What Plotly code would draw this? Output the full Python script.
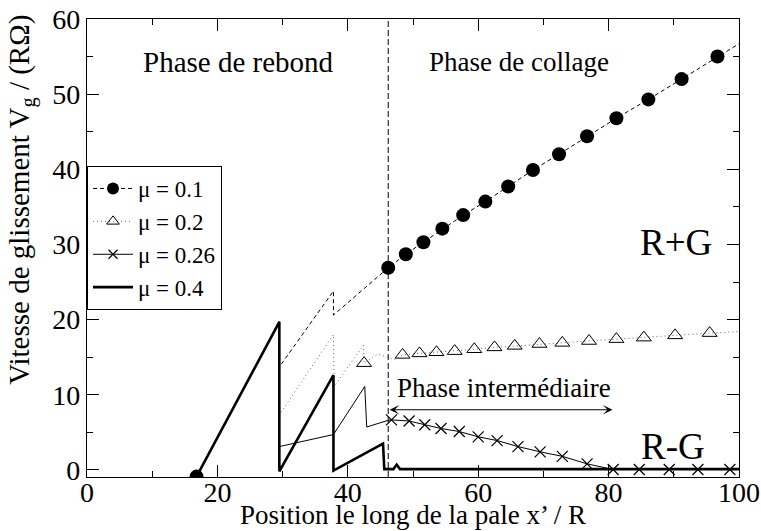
import plotly.graph_objects as go

FONT = '"Liberation Serif", "Times New Roman", Times, serif'

# ---- mu = 0.1 : dashed line, filled circles ----
mu01_x = [16.8, 29.5, 29.5, 37.8, 37.8, 46.2, 48.9, 51.6, 54.5, 57.7, 61.1, 64.6,
          68.4, 72.4, 76.7, 81.2, 86.1, 91.2, 96.7, 100.0]
mu01_y = [-0.9, 19.7, 13.7, 23.8, 20.6, 26.9, 28.7, 30.3, 32.1, 33.9, 35.7, 37.7,
          39.9, 42.0, 44.4, 46.8, 49.3, 52.0, 55.0, 56.7]
mu01_pts_x = [16.8, 46.2, 48.9, 51.6, 54.5, 57.7, 61.1, 64.6, 68.4, 72.4, 76.7,
              81.2, 86.1, 91.2, 96.7]
mu01_pts_y = [-0.9, 26.9, 28.7, 30.3, 32.1, 33.9, 35.7, 37.7, 39.9, 42.0, 44.4,
              46.8, 49.3, 52.0, 55.0]

# ---- mu = 0.2 : dotted line, open triangles ----
mu02_x = [16.8, 29.5, 29.5, 37.8, 37.9, 42.4, 42.5, 44.6, 47.2, 48.4, 51.0, 53.6,
          56.4, 59.4, 62.5, 65.6, 69.4, 72.9, 77.0, 81.2, 85.4, 90.2, 95.5, 100.0]
mu02_y = [-0.9, 19.7, 7.3, 18.0, 11.1, 16.6, 14.2, 15.4, 14.7, 15.3, 15.5, 15.65,
          15.8, 16.05, 16.3, 16.5, 16.75, 16.9, 17.15, 17.4, 17.6, 17.9, 18.2, 18.4]
mu02_pts_x = [16.8, 42.5, 48.4, 51.0, 53.6, 56.4, 59.4, 62.5, 65.6, 69.4, 72.9,
              77.0, 81.2, 85.4, 90.2, 95.5]
mu02_pts_y = [-0.9, 14.2, 15.3, 15.5, 15.65, 15.8, 16.05, 16.3, 16.5, 16.75, 16.9,
              17.15, 17.4, 17.6, 17.9, 18.2]

# ---- mu = 0.26 : thin solid line, crosses ----
mu026_x = [16.8, 29.5, 29.5, 37.8, 42.6, 42.9, 46.2, 46.7, 49.4, 51.8, 54.3, 57.1,
           60.0, 62.9, 66.1, 69.5, 72.9, 76.7, 80.7, 84.7, 89.3, 93.7, 98.6, 100.0]
mu026_y = [-0.9, 19.7, 3.1, 4.7, 11.1, 5.7, 6.6, 6.65, 6.5, 6.0, 5.5, 5.1,
           4.4, 3.9, 3.1, 2.4, 1.8, 0.8, 0.05, 0.05, 0.05, 0.05, 0.05, 0.05]
mu026_pts_x = [46.7, 49.4, 51.8, 54.3, 57.1, 60.0, 62.9, 66.1, 69.5, 72.9, 76.7,
               80.7, 84.7, 89.3, 93.7, 98.6]
mu026_pts_y = [6.65, 6.5, 6.0, 5.5, 5.1, 4.4, 3.9, 3.1, 2.4, 1.8, 0.8,
               0.05, 0.05, 0.05, 0.05, 0.05]

# ---- mu = 0.4 : thick solid line ----
mu04_x = [16.8, 29.5, 29.5, 37.8, 37.8, 45.4, 45.6, 47.0, 47.5, 48.0, 100.0]
mu04_y = [-0.9, 19.7, -0.2, 12.6, -0.1, 3.5, 0.1, 0.1, 0.7, 0.1, 0.1]

x_ticks = [0, 20, 40, 60, 80, 100]
y_ticks = [0, 10, 20, 30, 40, 50, 60]

STICK_X = 46.2          # start of the sticking phase
INTER_X = [46.2, 80.6]  # extent of the intermediate phase
INTER_Y = 8.0

fig = go.Figure()

# curves
fig.add_trace(go.Scatter(x=mu01_x, y=mu01_y, mode="lines", showlegend=False,
                         line=dict(color="black", width=1, dash="4px,3px")))
fig.add_trace(go.Scatter(x=mu02_x, y=mu02_y, mode="lines", showlegend=False,
                         line=dict(color="#666666", width=1, dash="1px,3px")))
fig.add_trace(go.Scatter(x=mu026_x, y=mu026_y, mode="lines", showlegend=False,
                         line=dict(color="black", width=1)))
fig.add_trace(go.Scatter(x=mu04_x, y=mu04_y, mode="lines", showlegend=False,
                         line=dict(color="black", width=2.6)))

# symbols
fig.add_trace(go.Scatter(x=mu01_pts_x, y=mu01_pts_y, mode="markers", showlegend=False,
                         marker=dict(symbol="circle", size=14, color="black")))
fig.add_trace(go.Scatter(x=mu02_pts_x, y=mu02_pts_y, mode="markers", showlegend=False,
                         marker=dict(symbol="triangle-up-open", size=13, color="black",
                                     line=dict(width=1))))
fig.add_trace(go.Scatter(x=mu026_pts_x, y=mu026_pts_y, mode="markers", showlegend=False,
                         marker=dict(symbol="x-thin-open", size=11, color="black",
                                     line=dict(width=1.2, color="black"))))

# legend entries
fig.add_trace(go.Scatter(x=[None], y=[None], mode="lines+markers", name="μ = 0.1",
                         line=dict(color="black", width=1, dash="4px,3px"),
                         marker=dict(symbol="circle", size=12, color="black")))
fig.add_trace(go.Scatter(x=[None], y=[None], mode="lines+markers", name="μ = 0.2",
                         line=dict(color="#666666", width=1, dash="1px,3px"),
                         marker=dict(symbol="triangle-up-open", size=11, color="black",
                                     line=dict(width=1))))
fig.add_trace(go.Scatter(x=[None], y=[None], mode="lines+markers", name="μ = 0.26",
                         line=dict(color="black", width=1),
                         marker=dict(symbol="x-thin-open", size=9, color="black",
                                     line=dict(width=1.2, color="black"))))
fig.add_trace(go.Scatter(x=[None], y=[None], mode="lines", name="μ = 0.4",
                         line=dict(color="black", width=2.6)))

# phase boundary
fig.add_shape(type="line", xref="x", yref="paper", x0=STICK_X, x1=STICK_X, y0=0, y1=1,
              line=dict(color="black", width=1, dash="6px,3px"))

# double arrow of the intermediate phase
fig.add_annotation(x=INTER_X[1], y=INTER_Y, ax=INTER_X[0], ay=INTER_Y,
                   xref="x", yref="y", axref="x", ayref="y", text="",
                   showarrow=True, arrowside="end+start", arrowhead=3,
                   arrowsize=1.6, arrowwidth=1, arrowcolor="black")

txt = dict(family=FONT, size=27, color="black")
fig.add_annotation(x=23.3, y=54.3, text="Phase de rebond", showarrow=False,
                   font=dict(family=FONT, size=29, color="black"))
fig.add_annotation(x=66.3, y=54.3, text="Phase de collage", showarrow=False, font=txt)
fig.add_annotation(x=(INTER_X[0] + INTER_X[1]) / 2 + 0.5, y=10.9,
                   text="Phase intermédiaire", showarrow=False, font=txt)
fig.add_annotation(x=90.3, y=30.2, text="R+G", showarrow=False,
                   font=dict(family=FONT, size=37, color="black"))
fig.add_annotation(x=89.9, y=3.1, text="R-G", showarrow=False,
                   font=dict(family=FONT, size=37, color="black"))

# axis titles
fig.add_annotation(xref="paper", yref="paper", x=-0.1, y=0.605, textangle=-90,
                   xanchor="center", yanchor="middle",
                   text="Vitesse de glissement V<sub>g</sub> / (RΩ)", showarrow=False,
                   font=dict(family=FONT, size=29, color="black"))
fig.add_annotation(xref="paper", yref="paper", x=0.5, y=-0.119,
                   xanchor="center", yanchor="bottom",
                   text="Position le long de la pale x’ / R", showarrow=False,
                   font=dict(family=FONT, size=27, color="black"))

axis_common = dict(showline=True, linecolor="black", linewidth=1.3, mirror="ticks",
                   ticks="inside", ticklen=12, tickwidth=1, tickcolor="black",
                   showgrid=False, zeroline=False, automargin=False,
                   tickfont=dict(family=FONT, size=28, color="black"))

fig.update_layout(
    width=761, height=531,
    margin=dict(l=87, r=22, t=19, b=54),
    paper_bgcolor="white", plot_bgcolor="white",
    font=dict(family=FONT, color="black"),
    xaxis=dict(range=[0, 100], tickvals=x_ticks, ticklabelstandoff=-10,
               minor=dict(dtick=10, ticks="inside", ticklen=6, tickcolor="black"),
               **axis_common),
    yaxis=dict(range=[-0.95, 60], tickvals=y_ticks,
               minor=dict(dtick=5, ticks="inside", ticklen=6, tickcolor="black"),
               **axis_common),
    legend=dict(x=0, y=0.679, xanchor="left", yanchor="top",
                bgcolor="white", bordercolor="black", borderwidth=1,
                font=dict(family=FONT, size=23, color="black"),
                tracegroupgap=0, itemwidth=40),
)

fig.write_html("out.html")
